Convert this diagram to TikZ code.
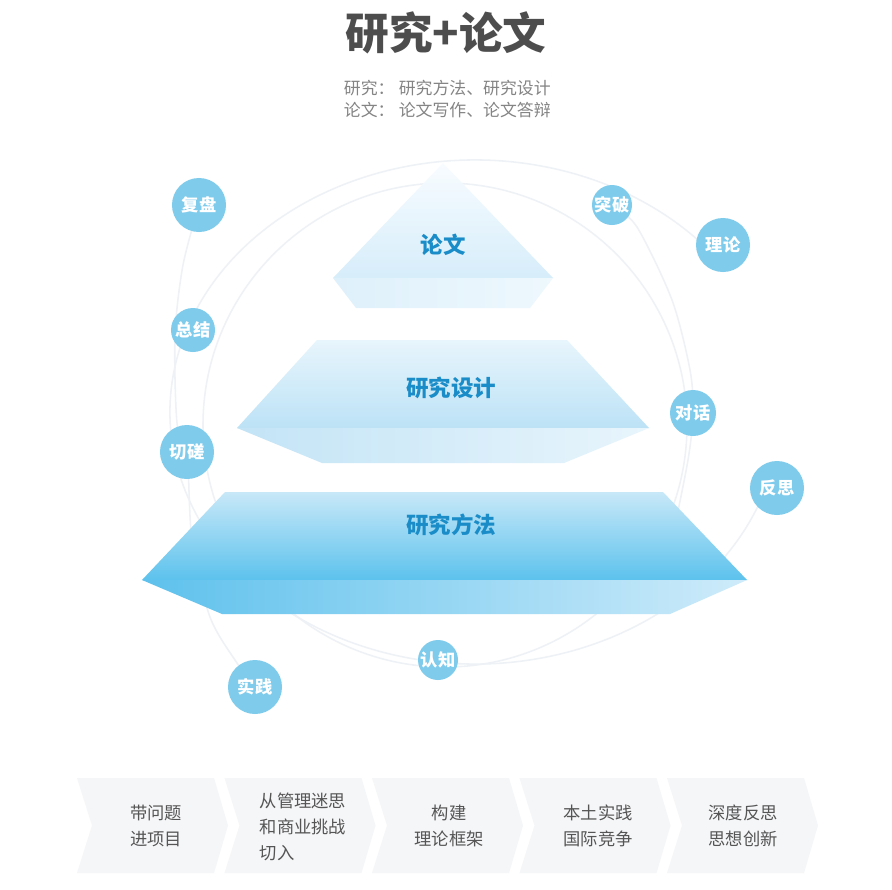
\documentclass[tikz,border=0pt]{standalone}
\usepackage{fontspec}
\setmainfont{Noto Sans CJK SC}
\usepackage{tikz}
\usetikzlibrary{positioning}
\definecolor{titlegray}{RGB}{77, 77, 77}
\definecolor{subgray}{RGB}{132, 132, 132}
\definecolor{textgray}{RGB}{85, 85, 85}
\definecolor{labelblue}{RGB}{26, 140, 200}
\definecolor{knotblue}{RGB}{126, 203, 236}
\definecolor{orbitgray}{RGB}{238, 242, 246}
\definecolor{chevgray}{RGB}{245, 246, 248}
% 金字塔各层颜色
\definecolor{topA}{RGB}{248, 252, 255}
\definecolor{topB}{RGB}{214, 237, 250}
\definecolor{topC}{RGB}{222, 240, 251}
\definecolor{topD}{RGB}{238, 248, 253}
\definecolor{midA}{RGB}{232, 245, 252}
\definecolor{midB}{RGB}{188, 226, 246}
\definecolor{midC}{RGB}{195, 228, 246}
\definecolor{midD}{RGB}{232, 245, 252}
\definecolor{lowA}{RGB}{200, 232, 248}
\definecolor{lowB}{RGB}{92, 194, 237}
\definecolor{lowC}{RGB}{94, 193, 236}
\definecolor{lowD}{RGB}{206, 235, 250}

\begin{document}
\begin{tikzpicture}[x=0.025cm, y=-0.025cm,
    orbit/.style={draw=orbitgray, line width=1.1pt},
    knot/.style={circle, fill=knotblue, text=white, inner sep=0pt,
        font=\fontsize{12.3}{12.3}\selectfont\bfseries},
    layer/.style={text=labelblue, font=\fontsize{16}{16}\selectfont\bfseries},
    stagetext/.style={text=textgray, align=center,
        font=\fontsize{12.3}{18.5}\selectfont}]
    \useasboundingbox (0,0) rectangle (892,889);
    \fill[white] (0,0) rectangle (892,889);

    % 标题
    \node[text=titlegray, font=\fontsize{31}{31}\selectfont\bfseries] (title) at (446,33) {研究+论文};
    \node[text=subgray, anchor=west, align=left, font=\fontsize{12}{16}\selectfont] (subtitle) at (339,99)
        {研究：\hspace{0.25em}研究方法、研究设计\\论文：\hspace{0.25em}论文写作、论文答辩};

    % 轨道线
    \draw[orbit] (475,412) ++(17:305 and 252) arc [start angle=17, end angle=324, x radius=305, y radius=252];
    \draw[orbit] (445,425) circle [radius=242];
    \draw[orbit] plot[smooth] coordinates {(199,205) (183,265) (175,335) (177,423) (187,452) (192,540) (210,617) (237,663) (255,687)};
    \draw[orbit] plot[smooth] coordinates {(612,205) (637,227) (672,300) (690,370) (693,413) (688,460) (672,540)};

    % 金字塔 顶层
    \shade[top color=topA, bottom color=topB] (443,163) -- (553,278) -- (333,278) -- cycle;
    \shade[left color=topC, right color=topD] (333,278) -- (553,278) -- (530,308) -- (356,308) -- cycle;
    % 中层
    \shade[top color=midA, bottom color=midB] (317,340) -- (567,340) -- (649,428) -- (237,428) -- cycle;
    \shade[left color=midC, right color=midD] (237,428) -- (649,428) -- (564,463) -- (322,463) -- cycle;
    % 底层
    \shade[top color=lowA, bottom color=lowB] (225,492) -- (663,492) -- (747,580) -- (142,580) -- cycle;
    \shade[left color=lowC, right color=lowD] (142,580) -- (747,580) -- (670,614) -- (222,614) -- cycle;

    \node[layer] (lunwen) at (443,245) {论文};
    \node[layer] (sheji) at (451,388) {研究设计};
    \node[layer] (fangfa) at (451,525) {研究方法};

    % 圆形节点
    \node[knot, minimum size=1.35cm] (fupan) at (199,205) {复盘};
    \node[knot, minimum size=1.0cm] (tupo) at (612,205) {突破};
    \node[knot, minimum size=1.35cm] (lilun) at (723,245) {理论};
    \node[knot, minimum size=1.1cm] (zongjie) at (193,330) {总结};
    \node[knot, minimum size=1.35cm] (qiecuo) at (187,452) {切磋};
    \node[knot, minimum size=1.15cm] (duihua) at (693,413) {对话};
    \node[knot, minimum size=1.35cm] (fansi) at (777,488) {反思};
    \node[knot, minimum size=1.0cm] (renzhi) at (438,660) {认知};
    \node[knot, minimum size=1.35cm] (shijian) at (255,687) {实践};

    % 底部箭头条
    \foreach \x in {77,224.5,372,519.5,667} {
        \fill[chevgray] (\x,778) -- ++(137,0) -- ++(14,47.5) -- ++(-14,47.5) -- ++(-137,0) -- ++(15,-47.5) -- cycle;
    }
    \node[stagetext] (stage1) at (156,826) {带问题\\进项目};
    \node[stagetext, align=left] (stage2) at (303,827) {从管理迷思\\和商业挑战\\切入};
    \node[stagetext] (stage3) at (449,826) {构建\\理论框架};
    \node[stagetext] (stage4) at (598,826) {本土实践\\国际竞争};
    \node[stagetext] (stage5) at (743,826) {深度反思\\思想创新};
\end{tikzpicture}
\end{document}
